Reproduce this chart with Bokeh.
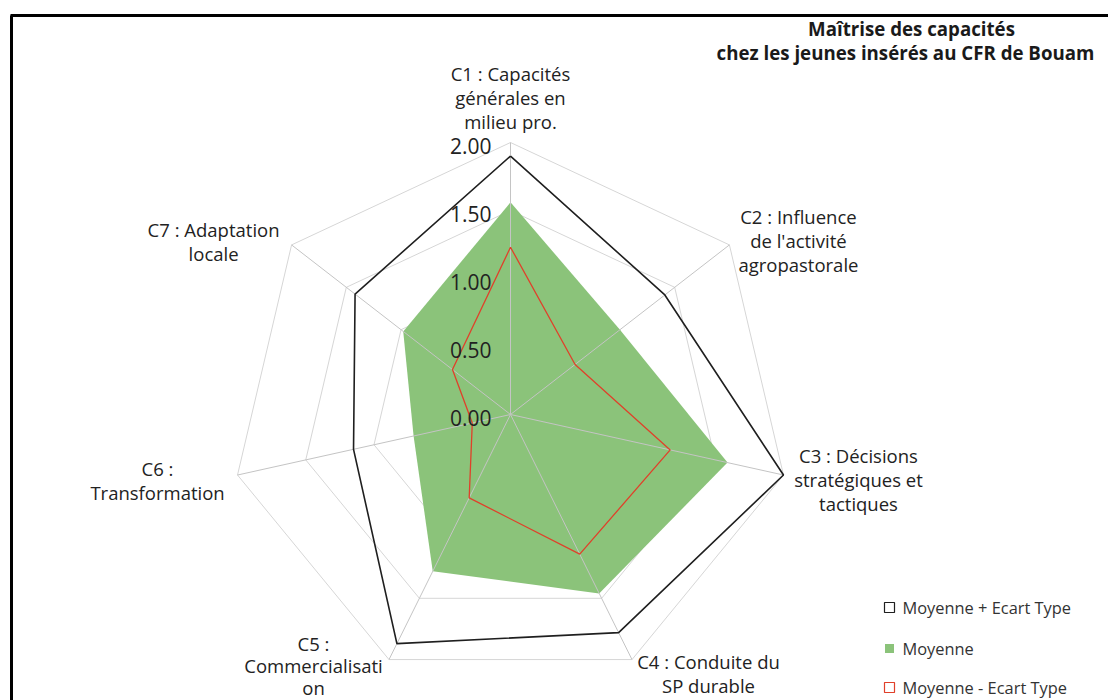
import numpy as np
from bokeh.plotting import figure
from bokeh.models import Range1d
from bokeh.core.properties import value
from bokeh.embed import file_html
from bokeh.resources import INLINE

# ---------------- data ----------------
categories = ["C1", "C2", "C3", "C4", "C5", "C6", "C7"]
category_labels = [
    ["C1 : Capacités", "générales en", "milieu pro."],
    ["C2 : Influence", "de l'activité", "agropastorale"],
    ["C3 : Décisions", "stratégiques et", "tactiques"],
    ["C4 : Conduite du", "SP durable"],
    ["C5 :", "Commercialisati", "on"],
    ["C6 :", "Transformation"],
    ["C7 : Adaptation", "locale"],
]
moyenne_plus = [1.90, 1.41, 2.00, 1.78, 1.87, 1.15, 1.42]
moyenne = [1.56, 1.00, 1.59, 1.46, 1.28, 0.71, 0.98]
moyenne_moins = [1.23, 0.59, 1.17, 1.14, 0.68, 0.28, 0.53]
tick_values = [0.0, 0.5, 1.0, 1.5, 2.0]
tick_labels = ["0.00", "0.50", "1.00", "1.50", "2.00"]
series_names = ["Moyenne + Ecart Type", "Moyenne", "Moyenne - Ecart Type"]
title_lines = ["Maîtrise des capacités", "chez les jeunes insérés au CFR de Bouam"]

# ---------------- layout / style ----------------
W, H = 1108, 700
CX, CY = 510, 414        # radar centre in pixels
SX, SY = 140, 136        # pixels per unit (x, y)
RMAX = tick_values[-1]
FONT = value("Open Sans")
GREEN = "#8bc37a"
BLACK = "#1f1f1f"
RED = "#e0402a"
TXT = "#222222"

def px2x(px):
    return (px - CX) / SX

def py2y(py):
    return (CY - py) / SY

n = len(categories)
theta = np.pi / 2 - 2 * np.pi * np.arange(n) / n

def polar(vals, close=True):
    v = np.asarray(vals, dtype=float)
    xs = v * np.cos(theta)
    ys = v * np.sin(theta)
    if close:
        xs = np.append(xs, xs[0])
        ys = np.append(ys, ys[0])
    return list(xs), list(ys)

p = figure(width=W, height=H,
           x_range=Range1d(px2x(0), px2x(W)),
           y_range=Range1d(py2y(H), py2y(0)),
           output_backend="svg", toolbar_location=None,
           x_axis_location=None, y_axis_location=None,
           min_border=0, outline_line_color=None)
p.xgrid.visible = False
p.ygrid.visible = False
p.background_fill_color = "white"
p.border_fill_color = "white"

# value rings (behind the series)
for lvl in tick_values[1:]:
    xs, ys = polar([lvl] * n)
    p.line(xs, ys, line_color="#d6d6d6", line_width=1)

# Moyenne (filled)
xs, ys = polar(moyenne)
p.patch(xs, ys, fill_color=GREEN, line_color=None)

# spokes
ox, oy = polar([RMAX] * n, close=False)
p.segment(x0=[0] * n, y0=[0] * n, x1=ox, y1=oy, line_color="#c4c4c4", line_width=1)

# Moyenne + Ecart Type
xs, ys = polar(moyenne_plus)
p.line(xs, ys, line_color=BLACK, line_width=1.6)

# Moyenne - Ecart Type
xs, ys = polar(moyenne_moins)
p.line(xs, ys, line_color=RED, line_width=1.3)

# value tick labels along the top spoke
p.text(x=[px2x(491)] * len(tick_values), y=tick_values, text=tick_labels,
       text_align="right", text_baseline="middle", y_offset=3,
       text_font=FONT, text_font_size="21px", text_color=TXT)

# category labels: offsets (px) from outer vertex to first-line centre, line height
label_layout = [(0, -69, 24), (69, -28, 24), (75, -19.5, 24), (76.5, 2, 24),
                (-75.5, -16, 22), (-80, -6.5, 24), (-78, -15.5, 24)]
lx, ly, lt = [], [], []
for k in range(n):
    dx, dy0, lh = label_layout[k]
    for i, line in enumerate(category_labels[k]):
        lx.append(ox[k] + dx / SX)
        ly.append(oy[k] - (dy0 + i * lh) / SY)
        lt.append(line)
p.text(x=lx, y=ly, text=lt, text_align="center", text_baseline="middle",
       text_font=FONT, text_font_size="18.5px", text_color=TXT)

# title
p.text(x=[px2x(911), px2x(905)], y=[py2y(28), py2y(52)], text=title_lines,
       text_align="center", text_baseline="middle",
       text_font=FONT, text_font_size="18.7px", text_font_style="bold",
       text_color="#1a1a1a")

# legend
leg_y = [py2y(607), py2y(648), py2y(687)]
leg_x = px2x(889)
p.scatter(x=[leg_x], y=[leg_y[0]], marker="square", size=10,
          fill_color="white", line_color=BLACK, line_width=1.2)
p.scatter(x=[leg_x], y=[leg_y[1]], marker="square", size=9,
          fill_color=GREEN, line_color=None)
p.scatter(x=[leg_x], y=[leg_y[2]], marker="square", size=10,
          fill_color="white", line_color=RED, line_width=1.2)
p.text(x=[px2x(902)] * 3, y=leg_y, text=series_names,
       text_align="left", text_baseline="middle",
       text_font=FONT, text_font_size="16.4px", text_color="#333333")

# frame border (top and left edges visible in the crop)
p.segment(x0=[px2x(10), px2x(11)], y0=[py2y(15), py2y(15)],
          x1=[px2x(W + 5), px2x(11)], y1=[py2y(15), py2y(H + 5)],
          line_color="black", line_width=3)

open("out.html", "w").write(file_html(p, INLINE))
